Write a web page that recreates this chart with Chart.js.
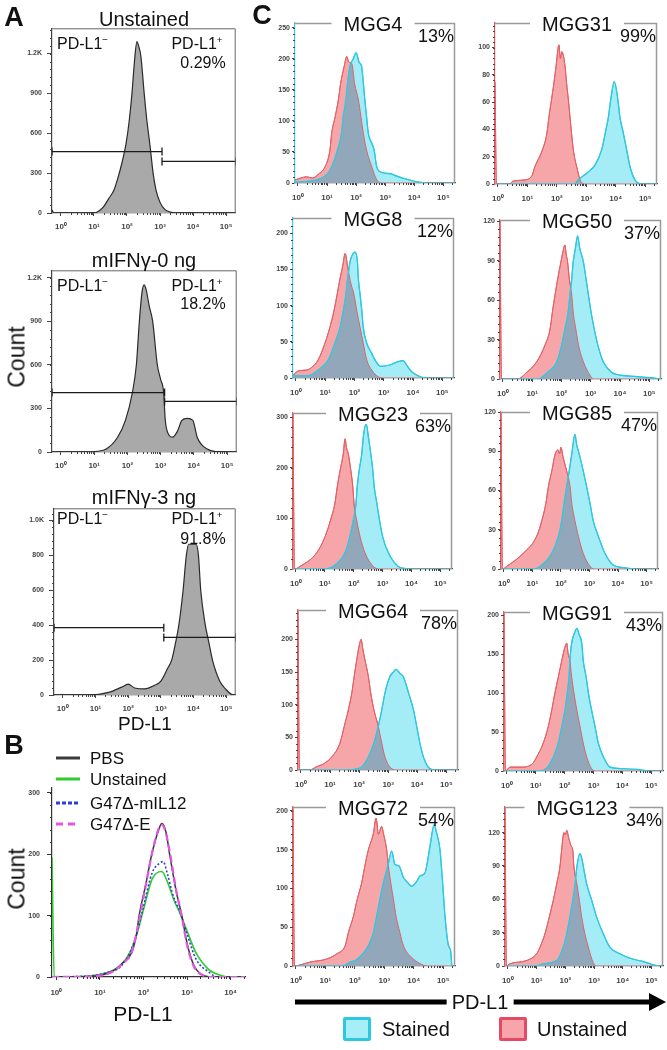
<!DOCTYPE html>
<html>
<head>
<meta charset="utf-8">
<script src="https://cdn.jsdelivr.net/npm/chart.js@4.4.0/dist/chart.umd.min.js"></script>
<style>
  body { margin: 0; background: #fff; }
  #fig { position: relative; width: 667px; height: 1050px; overflow: hidden; background: #fff;
         font-family: 'Liberation Sans', Arial, sans-serif; color: #111; }
  #fig canvas { position: absolute; }
  .t { position: absolute; white-space: nowrap; line-height: 1; z-index: 2; }
  .sup { font-size: .62em; position: relative; top: -.62em; }
</style>
</head>
<body>
<div id="fig"></div>
<script>
// ── Axis data ───────────────────────────────────────────
const decades = [0, 1, 2, 3, 4, 5];
const decadeLabels = ["10⁰", "10¹", "10²", "10³", "10⁴", "10⁵"];

// ── Panel A: [log10 PD-L1, count] ───────────────────────
const aTitles = ["Unstained", "mIFNγ-0 ng", "mIFNγ-3 ng"];
const aPercent = ["0.29%", "18.2%", "91.8%"];
const aYMax = [1390, 1250, 1070];
const aYTicks = [[0, 300, 600, 900, 1200], [0, 300, 600, 900, 1200], [0, 200, 400, 600, 800, 1000]];
const aGateCut = [3.06, 3.12, 3.09];
const aGateNegY = [462, 409, 386];
const aGatePosY = [388, 348, 330];

const aUnstained = [[-0.27, 25], [-0.22, 0], [1.0, 0], [1.15, 15], [1.3, 50], [1.45, 110], [1.6, 170], [1.72, 260],
  [1.85, 380], [1.97, 520], [2.07, 700], [2.15, 900], [2.24, 1180], [2.3, 1290], [2.36, 1250], [2.42, 1180],
  [2.52, 900], [2.6, 700], [2.7, 500], [2.79, 300], [2.88, 170], [3.0, 80], [3.15, 25], [3.35, 5], [3.6, 0], [5.29, 0]];
const aIfn0 = [[-0.27, 0], [0.8, 0], [1.1, 5], [1.36, 20], [1.7, 100], [1.94, 218], [2.15, 409], [2.27, 600],
  [2.36, 900], [2.44, 1100], [2.5, 1150], [2.56, 1120], [2.66, 1000], [2.76, 900], [2.9, 600], [3.0, 500],
  [3.09, 409], [3.14, 218], [3.22, 130], [3.36, 102], [3.5, 140], [3.64, 218], [3.8, 232], [3.97, 218],
  [4.1, 102], [4.4, 20], [4.7, 2], [5.0, 0], [5.29, 0]];
const aIfn3 = [[-0.27, 0], [0.8, 0], [1.4, 15], [1.8, 45], [2.0, 62], [2.2, 40], [2.5, 35], [2.8, 55], [3.0, 80],
  [3.2, 150], [3.33, 200], [3.45, 300], [3.55, 400], [3.68, 600], [3.78, 800], [3.85, 864], [4.08, 864],
  [4.15, 800], [4.22, 600], [4.36, 400], [4.47, 300], [4.58, 200], [4.8, 80], [5.0, 30], [5.15, 5], [5.29, 0]];
const aSeries = [aUnstained, aIfn0, aIfn3];

// ── Panel B ─────────────────────────────────────────────
const bNames = ["PBS", "Unstained", "G47Δ-mIL12", "G47Δ-E"];
const bYTicks = [0, 100, 200, 300];
const bPBS = [[-0.1, 0], [0.8, 1], [1.3, 10], [1.55, 25], [1.73, 40], [1.84, 70], [1.9, 100], [2.05, 150],
  [2.19, 200], [2.35, 240], [2.42, 250], [2.52, 235], [2.6, 200], [2.75, 140], [2.88, 100], [3.0, 55],
  [3.15, 20], [3.36, 3], [3.6, 0], [4.33, 0]];
const bUnstained = [[-0.1, 195], [-0.05, 0], [0.8, 2], [1.2, 8], [1.46, 18], [1.69, 40], [1.85, 70], [2.0, 110],
  [2.2, 160], [2.42, 172], [2.55, 155], [2.7, 125], [2.83, 105], [3.0, 75], [3.2, 40], [3.5, 12], [3.8, 2],
  [4.0, 0], [4.33, 0]];
const bIL12 = [[-0.1, 0], [0.8, 2], [1.2, 8], [1.46, 16], [1.69, 40], [1.85, 72], [2.0, 115], [2.2, 170],
  [2.38, 186], [2.45, 188], [2.55, 168], [2.65, 140], [2.72, 125], [2.83, 108], [3.0, 70], [3.2, 30],
  [3.5, 8], [3.7, 0], [4.33, 0]];
const bE = [[-0.1, 0], [0.8, 1], [1.3, 9], [1.55, 24], [1.73, 40], [1.84, 72], [1.92, 100], [2.06, 152],
  [2.2, 203], [2.35, 242], [2.42, 248], [2.5, 238], [2.6, 205], [2.75, 142], [2.88, 98], [3.0, 52],
  [3.15, 18], [3.36, 3], [3.6, 0], [4.33, 0]];

// ── Panel C ─────────────────────────────────────────────
const cNames = ["MGG4", "MGG31", "MGG8", "MGG50", "MGG23", "MGG85", "MGG64", "MGG91", "MGG72", "MGG123"];
const cPercent = ["13%", "99%", "12%", "37%", "63%", "47%", "78%", "43%", "54%", "34%"];
const cYMax = [258, 118, 221, 121, 308, 120, 245, 204, 205, 143];
const cYStep = [50, 20, 50, 30, 100, 30, 50, 50, 50, 30];

const cStained = [
  [[-0.1, 2], [0.1, 2], [0.66, 5], [1.0, 14], [1.16, 26], [1.36, 53], [1.5, 80], [1.56, 107], [1.65, 134], [1.71, 161],
   [1.79, 188], [1.9, 200], [2.0, 210], [2.1, 195], [2.19, 188], [2.25, 161], [2.3, 134], [2.36, 107], [2.42, 80],
   [2.54, 64], [2.62, 53], [2.71, 26], [2.88, 17], [3.17, 15], [3.4, 11], [3.74, 6], [4.08, 2], [4.4, 0], [5.4, 0]],
  [[-0.1, 0], [2.6, 0], [2.72, 3], [2.96, 7], [3.13, 10], [3.3, 14], [3.52, 25], [3.64, 37], [3.75, 49], [3.83, 62],
   [3.95, 75], [4.07, 62], [4.14, 49], [4.26, 37], [4.37, 25], [4.48, 13], [4.65, 3], [4.88, 0], [5.4, 0]],
  [[-0.1, 3], [0.4, 3], [0.76, 11], [1.11, 25], [1.33, 48], [1.51, 70], [1.62, 93], [1.71, 116], [1.77, 138],
   [1.85, 161], [1.95, 172], [2.02, 174], [2.1, 161], [2.13, 138], [2.19, 116], [2.25, 93], [2.3, 70], [2.42, 48],
   [2.59, 34], [2.7, 25], [2.9, 16], [3.2, 18], [3.45, 22], [3.65, 24], [3.75, 20], [3.88, 12], [4.01, 7], [4.3, 1],
   [4.6, 0], [5.4, 0]],
  [[-0.1, 0], [1.2, 0], [1.55, 5.5], [1.84, 13], [2.01, 26], [2.12, 38], [2.23, 51], [2.29, 64], [2.35, 76], [2.4, 89],
   [2.48, 100], [2.55, 109], [2.62, 100], [2.75, 89], [2.84, 76], [2.92, 64], [3.01, 51], [3.12, 38], [3.24, 26],
   [3.43, 13], [3.72, 5], [4.0, 3], [4.5, 2], [5.0, 1], [5.4, 0]],
  [[-0.1, 0], [1.0, 0], [1.29, 5], [1.7, 32], [1.87, 64], [1.99, 97], [2.08, 130], [2.12, 162], [2.19, 195],
   [2.28, 228], [2.33, 260], [2.43, 287], [2.51, 260], [2.59, 228], [2.66, 195], [2.71, 162], [2.8, 130],
   [2.89, 97], [3.0, 64], [3.2, 32], [3.54, 5], [3.8, 1], [4.2, 0], [5.4, 0]],
  [[-0.1, 0], [1.0, 0], [1.27, 2], [1.68, 12], [1.91, 25], [2.03, 37], [2.11, 50], [2.2, 63], [2.29, 75], [2.38, 88],
   [2.49, 103], [2.55, 95], [2.64, 88], [2.78, 75], [2.9, 63], [3.02, 50], [3.13, 37], [3.31, 25], [3.54, 12],
   [3.83, 3], [4.2, 1], [4.6, 0], [5.4, 0]],
  [[-0.1, 0], [1.5, 0], [2.03, 3], [2.32, 20], [2.51, 41], [2.66, 67], [2.78, 92], [2.89, 118], [3.06, 143],
   [3.18, 150], [3.27, 154], [3.4, 148], [3.52, 143], [3.7, 118], [3.87, 92], [3.98, 67], [4.09, 41], [4.21, 20],
   [4.35, 6], [4.48, 1], [4.7, 0], [5.4, 0]],
  [[-0.1, 0], [1.1, 0], [1.38, 4], [1.61, 18], [1.78, 36], [1.9, 57], [2.01, 78], [2.09, 100], [2.15, 121],
   [2.18, 142], [2.24, 164], [2.35, 178], [2.42, 183], [2.5, 175], [2.59, 164], [2.64, 142], [2.74, 121],
   [2.82, 100], [2.93, 78], [3.05, 57], [3.16, 36], [3.34, 18], [3.57, 5], [4.0, 3], [4.5, 2], [4.9, 0], [5.4, 0]],
  [[-0.1, 0], [1.6, 0], [1.84, 5], [2.06, 8], [2.46, 26], [2.63, 43], [2.74, 64], [2.85, 86], [2.97, 107],
   [3.12, 129], [3.25, 148], [3.36, 131], [3.5, 129], [3.65, 114], [3.76, 109], [3.93, 103], [4.1, 109],
   [4.21, 116], [4.38, 120], [4.55, 154], [4.69, 182], [4.78, 171], [4.89, 150], [4.98, 107], [5.06, 64],
   [5.18, 26], [5.25, 20], [5.3, 0], [5.4, 0]],
  [[-0.1, 0], [1.0, 0], [1.23, 2], [1.7, 5], [1.93, 17], [2.05, 29], [2.16, 44], [2.26, 59], [2.34, 74], [2.4, 89],
   [2.51, 101], [2.58, 96], [2.63, 89], [2.74, 74], [2.92, 59], [3.09, 44], [3.32, 29], [3.55, 17], [3.9, 11],
   [4.25, 7], [4.71, 4], [5.3, 0], [5.4, 0]],
];

const cUnstained = [
  [[-0.1, 5], [0.1, 8], [0.3, 10], [0.5, 8], [0.7, 14], [0.93, 26], [1.1, 53], [1.16, 80], [1.28, 107], [1.39, 134],
   [1.47, 161], [1.59, 188], [1.68, 204], [1.75, 195], [1.85, 193], [1.95, 160], [2.08, 134], [2.25, 80],
   [2.36, 53], [2.54, 26], [2.71, 5], [2.9, 0], [5.4, 0]],
  [[-0.1, 75], [-0.05, 0], [0.4, 0], [0.5, 2], [0.9, 3], [1.15, 6], [1.26, 13], [1.51, 25], [1.66, 37], [1.73, 49],
   [1.82, 62], [1.9, 74], [1.97, 86], [2.07, 102], [2.12, 92], [2.17, 97], [2.28, 86], [2.33, 74], [2.39, 62],
   [2.5, 37], [2.56, 25], [2.67, 13], [2.84, 1], [3.0, 0], [5.4, 0]],
  [[-0.1, 4], [0.1, 10], [0.37, 11], [0.55, 15], [0.76, 25], [0.99, 48], [1.16, 70], [1.3, 93], [1.41, 116],
   [1.51, 138], [1.6, 155], [1.68, 172], [1.78, 150], [1.88, 130], [1.98, 116], [2.08, 93], [2.19, 70], [2.3, 48],
   [2.42, 25], [2.59, 11], [2.8, 2], [3.0, 0], [5.4, 0]],
  [[-0.1, 125], [-0.05, 0], [0.5, 0], [0.81, 5], [1.15, 13], [1.44, 26], [1.61, 38], [1.69, 51], [1.78, 64],
   [1.87, 76], [1.98, 89], [2.05, 97], [2.12, 102], [2.16, 95], [2.21, 89], [2.27, 76], [2.35, 64], [2.4, 51],
   [2.49, 38], [2.58, 26], [2.75, 13], [2.92, 5], [3.1, 0], [5.4, 0]],
  [[-0.1, 310], [-0.05, 0], [0.14, 5], [0.72, 32], [1.01, 64], [1.2, 97], [1.35, 130], [1.43, 162], [1.53, 195],
   [1.64, 228], [1.7, 257], [1.75, 240], [1.81, 228], [1.9, 195], [1.97, 162], [2.01, 130], [2.1, 97], [2.22, 64],
   [2.39, 32], [2.68, 5], [2.9, 0], [5.4, 0]],
  [[-0.1, 125], [-0.05, 0], [0.1, 2], [0.68, 12], [1.15, 25], [1.33, 37], [1.47, 50], [1.56, 63], [1.68, 75],
   [1.8, 88], [1.9, 91], [1.95, 88], [2.0, 93], [2.08, 85], [2.2, 75], [2.32, 63], [2.38, 50], [2.49, 37],
   [2.61, 25], [2.78, 12], [3.02, 2], [3.2, 0], [5.4, 0]],
  [[-0.1, 250], [-0.05, 0], [0.3, 0], [0.54, 5], [0.8, 10], [1.06, 20], [1.34, 41], [1.49, 67], [1.63, 92],
   [1.75, 118], [1.83, 143], [1.92, 169], [2.0, 190], [2.07, 200], [2.13, 185], [2.2, 169], [2.32, 143],
   [2.4, 118], [2.51, 92], [2.66, 67], [2.78, 41], [2.89, 20], [3.12, 2], [3.3, 0], [5.4, 0]],
  [[-0.1, 210], [-0.05, 0], [0.11, 5], [0.5, 5], [0.9, 10], [1.03, 18], [1.26, 36], [1.43, 57], [1.55, 78],
   [1.66, 100], [1.78, 121], [1.9, 142], [2.0, 158], [2.07, 164], [2.12, 150], [2.18, 142], [2.24, 121],
   [2.32, 100], [2.42, 78], [2.53, 57], [2.64, 36], [2.76, 18], [2.93, 3], [3.1, 0], [5.4, 0]],
  [[-0.1, 210], [-0.05, 0], [0.2, 2], [0.48, 5], [1.04, 9], [1.4, 16], [1.67, 26], [1.78, 43], [1.95, 64],
   [2.08, 86], [2.23, 107], [2.34, 129], [2.46, 150], [2.63, 171], [2.72, 191], [2.8, 170], [2.91, 180],
   [2.97, 171], [3.08, 150], [3.14, 129], [3.22, 107], [3.31, 86], [3.4, 64], [3.53, 43], [3.65, 26], [3.9, 12],
   [4.33, 1], [4.5, 0], [5.4, 0]],
  [[-0.1, 145], [-0.05, 0], [0.07, 2], [0.66, 5], [1.0, 11], [1.12, 17], [1.29, 29], [1.44, 44], [1.58, 59],
   [1.7, 74], [1.81, 89], [1.87, 104], [1.95, 120], [2.0, 118], [2.05, 122], [2.12, 115], [2.2, 108], [2.26, 104],
   [2.3, 89], [2.4, 74], [2.49, 59], [2.57, 44], [2.68, 29], [2.8, 17], [2.97, 3], [3.1, 0], [5.4, 0]],
];

// ── Layout (plot boxes in page pixels: left, top, right, bottom) ──
const aBoxes = [[52, 27, 237, 213], [52, 269, 238, 452], [54, 507, 237, 695]];
const bBox = [52, 788, 245, 977];
const cBoxes = [[295, 23, 455, 183], [495, 23, 657, 184], [293, 218, 454, 378], [500, 220, 661, 379],
  [293, 413, 452, 569], [501, 412, 658, 569], [298, 610, 458, 770], [504, 612, 663, 771],
  [293, 807, 455, 966], [505, 807, 663, 966]];
const cLeftColor = ["#3cc9de", "#e0585e", "#3cc9de", "#e0585e", "#e0585e", "#e0585e", "#e0585e", "#e0585e", "#e0585e", "#e0585e"];

const STAINED_FILL = "rgb(164,236,246)";
const STAINED_LINE = "rgb(48,200,225)";
const UNSTAINED_FILL = "rgb(246,166,168)";
const UNSTAINED_LINE = "rgb(226,96,102)";
const OVERLAP_FILL = "rgb(146,168,186)";

Chart.defaults.font.family = "'Liberation Sans', Arial, sans-serif";
const fig = document.getElementById("fig");
const toXY = (pts) => pts.map(([x, y]) => ({ x, y }));

// ── Plugins ─────────────────────────────────────────────
const framePlugin = {
  id: "frame",
  afterDraw(chart, args, o) {
    const { ctx, chartArea: a } = chart;
    ctx.save();
    ctx.strokeStyle = o.color;
    ctx.lineWidth = o.width || 1;
    ctx.beginPath();
    ctx.moveTo(a.left, a.top + 0.5);
    ctx.lineTo(a.right - 0.5, a.top + 0.5);
    ctx.lineTo(a.right - 0.5, a.bottom);
    ctx.stroke();
    ctx.restore();
  },
};

const minorTicks = {
  id: "minorTicks",
  afterDraw(chart, args, o) {
    const { ctx, chartArea: a, scales: { x, y } } = chart;
    ctx.save();
    ctx.strokeStyle = o.color;
    ctx.lineWidth = 1;
    ctx.beginPath();
    for (let d = 0; d < x.max; d++) {
      for (let k = 2; k < 10; k++) {
        const v = d + Math.log10(k);
        if (v > x.max) break;
        const px = Math.round(x.getPixelForValue(v)) + 0.5;
        ctx.moveTo(px, a.bottom);
        ctx.lineTo(px, a.bottom + 2);
      }
    }
    const step = o.yStep / 5;
    for (let v = step; v < y.max; v += step) {
      const py = Math.round(y.getPixelForValue(v)) + 0.5;
      ctx.moveTo(a.left - 2, py);
      ctx.lineTo(a.left, py);
    }
    ctx.stroke();
    ctx.restore();
  },
};

// shade the region where the stained and unstained histograms overlap
const overlapPlugin = {
  id: "overlap",
  afterDatasetsDraw(chart, args, o) {
    const { ctx, chartArea: a } = chart;
    const area = (i) => {
      const meta = chart.getDatasetMeta(i);
      const pts = meta.data;
      ctx.beginPath();
      meta.dataset.path(ctx);
      ctx.lineTo(pts[pts.length - 1].x, a.bottom);
      ctx.lineTo(pts[0].x, a.bottom);
      ctx.closePath();
    };
    ctx.save();
    ctx.beginPath();
    ctx.rect(a.left, a.top, a.width, a.height);
    ctx.clip();
    area(0);
    ctx.clip();
    area(1);
    ctx.fillStyle = o.color;
    ctx.fill();
    ctx.restore();

    ctx.save();
    ctx.beginPath();
    ctx.rect(a.left, a.top, a.width, a.height);
    ctx.clip();
    [1, 0].forEach((i) => {
      const meta = chart.getDatasetMeta(i);
      const ds = chart.data.datasets[i];
      ctx.beginPath();
      meta.dataset.path(ctx);
      ctx.strokeStyle = ds.borderColor;
      ctx.lineWidth = ds.borderWidth;
      ctx.stroke();
    });
    ctx.restore();
  },
};

// ── Helpers ─────────────────────────────────────────────
function placeCanvas(box, pad) {
  const c = document.createElement("canvas");
  const w = box[2] - box[0] + pad.l + pad.r;
  const h = box[3] - box[1] + pad.t + pad.b;
  c.width = w; c.height = h;
  c.style.left = box[0] - pad.l + "px";
  c.style.top = box[1] - pad.t + "px";
  c.style.width = w + "px";
  c.style.height = h + "px";
  fig.appendChild(c);
  return c;
}

function flowChart(box, pad, cfg) {
  return new Chart(placeCanvas(box, pad), {
    type: "line",
    data: { datasets: cfg.datasets },
    options: {
      responsive: false,
      animation: false,
      devicePixelRatio: 1,
      events: [],
      layout: { padding: { top: pad.t, right: pad.r, left: 0, bottom: 0 } },
      elements: {
        point: { radius: 0, hoverRadius: 0 },
        line: { cubicInterpolationMode: "monotone", borderWidth: 1.2 },
      },
      plugins: {
        legend: { display: false },
        tooltip: { enabled: false },
        frame: cfg.frame || false,
        overlap: cfg.overlap || false,
        minorTicks: { yStep: cfg.yStep, color: cfg.axisColor },
      },
      scales: {
        x: {
          type: "linear",
          min: cfg.xMin,
          max: cfg.xMax,
          afterBuildTicks: (s) => { s.ticks = decades.filter((v) => v >= cfg.xMin && v <= cfg.xMax).map((v) => ({ value: v })); },
          afterFit: (s) => { s.height = pad.b; s.paddingLeft = 0; s.paddingRight = 0; },
          ticks: { autoSkip: false, maxRotation: 0, padding: cfg.xPad, callback: (v) => decadeLabels[v],
                   font: { size: 8, weight: "bold" }, color: "#444" },
          grid: { drawOnChartArea: false, tickLength: 3, color: cfg.axisColor },
          border: { color: cfg.axisColor, width: 1.2 },
        },
        y: {
          min: 0,
          max: cfg.yMax,
          afterBuildTicks: (s) => { s.ticks = cfg.yTicks.map((v) => ({ value: v })); },
          afterFit: (s) => { s.width = pad.l; s.paddingTop = 0; s.paddingBottom = 0; },
          ticks: { padding: cfg.yPad || 2, callback: cfg.yFormat || ((v) => v), font: { size: 7, weight: "bold" }, color: "#444" },
          grid: { drawOnChartArea: false, tickLength: cfg.yTickLen || 3, color: cfg.axisColor },
          border: { color: cfg.leftColor || cfg.axisColor, width: 1.2 },
        },
      },
    },
    plugins: cfg.plugins,
  });
}

function text(html, x, y, size, opt = {}) {
  const d = document.createElement("div");
  d.className = "t";
  d.innerHTML = html;
  const tx = opt.align === "left" ? "0" : opt.align === "right" ? "-100%" : "-50%";
  d.style.left = x + "px";
  d.style.top = y + "px";
  d.style.fontSize = size + "px";
  if (opt.bold) d.style.fontWeight = "bold";
  if (opt.bg) { d.style.background = "#fff"; d.style.padding = "0 " + opt.bg + "px"; }
  d.style.transform = `translate(${tx},-50%)` + (opt.rotate ? " rotate(-90deg)" : "");
  fig.appendChild(d);
}

const kFormat = (v) => (v >= 1000 ? (v / 1000).toFixed(1) + "K" : v);

// ── Panel A ─────────────────────────────────────────────
const aPad = { l: 40, t: 4, r: 4, b: 24 };
aBoxes.forEach((box, i) => {
  const xMin = -0.27, xMax = 5.29;
  const gate = (x0, x1, y) => ({
    data: [{ x: x0, y }, { x: x1, y }],
    borderColor: "#1a1a1a", borderWidth: 1.3, fill: false,
    pointStyle: "line", pointRadius: 4, pointRotation: 90,
    pointBorderColor: "#1a1a1a", pointBorderWidth: 1.3, order: 0,
  });
  flowChart(box, aPad, {
    xMin, xMax, xPad: 6,
    yMax: aYMax[i], yTicks: aYTicks[i], yStep: aYTicks[i][1], yFormat: kFormat, yTickLen: 5, yPad: 5,
    axisColor: "#444",
    frame: { color: "#666", width: 1 },
    plugins: [framePlugin, minorTicks],
    datasets: [
      gate(xMin, aGateCut[i], aGateNegY[i]),
      gate(aGateCut[i], xMax, aGatePosY[i]),
      { data: toXY(aSeries[i]), fill: "origin", backgroundColor: "#a9a9a9", borderColor: "#2a2a2a", borderWidth: 1.2, order: 2 },
    ],
  });
});

text("A", 14, 17, 27, { bold: true });
const aTitleY = [19, 260, 497];
const aInnerY = [[44, 63], [286, 304], [519, 539]];
aTitles.forEach((t, i) => {
  text(t, 144, aTitleY[i], 20);
  text('PD-L1<span class="sup">−</span>', 57, aInnerY[i][0], 16, { align: "left" });
  text('PD-L1<span class="sup">+</span>', 197, aInnerY[i][0], 16);
  text(aPercent[i], 203, aInnerY[i][1], 16);
});
text("Count", 17, 357, 23, { rotate: true });
text("PD-L1", 145, 723, 19);

// ── Panel B ─────────────────────────────────────────────
const bStyles = [
  { color: "#3a3a3a", dash: [], width: 1.5 },
  { color: "#2ecc2e", dash: [], width: 1.6 },
  { color: "#2a3fd8", dash: [2, 2], width: 1.6 },
  { color: "#e455e4", dash: [7, 4], width: 2.2 },
];
const bSeries = [bPBS, bUnstained, bIL12, bE];
const bOrder = [1, 3, 2, 0];
flowChart(bBox, { l: 40, t: 4, r: 6, b: 26 }, {
  xMin: -0.1, xMax: 4.33, xPad: 8,
  yMax: 308, yTicks: bYTicks, yStep: 100, yTickLen: 5, yPad: 7,
  axisColor: "#333",
  plugins: [minorTicks],
  datasets: bSeries.map((s, i) => ({
    data: toXY(s), fill: false, borderColor: bStyles[i].color, borderDash: bStyles[i].dash,
    borderWidth: bStyles[i].width, order: bOrder[i],
  })),
});

text("B", 14, 745, 27, { bold: true });
const bLegendY = [758, 779, 803, 824];
bNames.forEach((name, i) => {
  const st = bStyles[i];
  const svg = `<svg width="26" height="6" style="display:block"><line x1="0" y1="3" x2="24" y2="3" stroke="${st.color}" stroke-width="3" stroke-dasharray="${i === 2 ? "4,2" : i === 3 ? "7,5" : "none"}"/></svg>`;
  text(svg, 56, bLegendY[i], 6, { align: "left" });
  text(name, 90, bLegendY[i], 17, { align: "left" });
});
text("Count", 17, 879, 23, { rotate: true });
text("PD-L1", 143, 1013, 21);

// ── Panel C ─────────────────────────────────────────────
const cPad = { l: 30, t: 4, r: 4, b: 24 };
cBoxes.forEach((box, i) => {
  const ticks = [];
  for (let v = 0; v <= cYMax[i]; v += cYStep[i]) ticks.push(v);
  flowChart(box, cPad, {
    xMin: -0.1, xMax: 5.4, xPad: 7,
    yMax: cYMax[i], yTicks: ticks, yStep: cYStep[i],
    axisColor: "#444", leftColor: cLeftColor[i],
    frame: { color: "#9a9a9a", width: 1.5 },
    overlap: { color: OVERLAP_FILL },
    plugins: [framePlugin, overlapPlugin, minorTicks],
    datasets: [
      { data: toXY(cStained[i]), fill: "origin", backgroundColor: STAINED_FILL, borderColor: STAINED_LINE, borderWidth: 1.2, order: 0 },
      { data: toXY(cUnstained[i]), fill: "origin", backgroundColor: UNSTAINED_FILL, borderColor: UNSTAINED_LINE, borderWidth: 1, order: 1 },
    ],
  });
  const cx = i % 2 === 0 ? 373 : 577;
  text(cNames[i], cx, box[1] + 1, 20, { bg: 12 });
  text(cPercent[i], box[2] - 1, box[1] + 13, 18, { align: "right" });
});

text("C", 262, 15, 27, { bold: true });

// PD-L1 arrow and legend
text(`<svg width="372" height="20" style="display:block">
  <line x1="0" y1="10" x2="356" y2="10" stroke="#000" stroke-width="5"/>
  <polygon points="354,1 371,10 354,19" fill="#000"/></svg>`, 295, 1002, 10, { align: "left" });
text("PD-L1", 480, 1002, 20, { bg: 5 });
text('<div style="width:22px;height:18px;border:3px solid #2bc8e0;border-radius:2px;background:#a8eef8"></div>', 343, 1029, 10, { align: "left" });
text("Stained", 382, 1029, 20, { align: "left" });
text('<div style="width:22px;height:18px;border:3px solid #e54a64;border-radius:2px;background:#f7a5aa"></div>', 499, 1029, 10, { align: "left" });
text("Unstained", 537, 1029, 20, { align: "left" });
</script>
</body>
</html>
